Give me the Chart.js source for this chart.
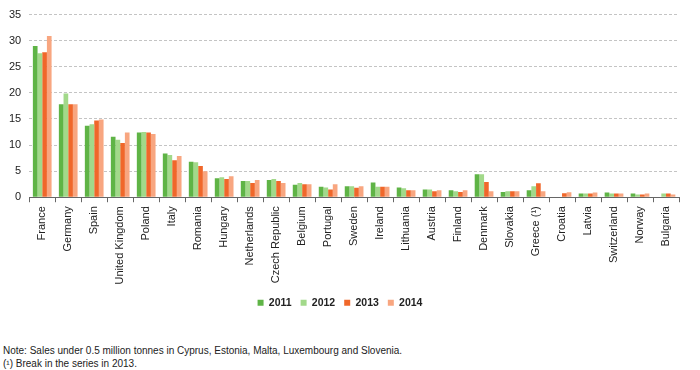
<!DOCTYPE html>
<html>
<head>
<meta charset="utf-8">
<script src="https://cdn.jsdelivr.net/npm/chart.js@4"></script>
<style>
  body { margin: 0; background: #fff; font-family: Arial, "Liberation Sans", sans-serif; }
  #wrap { position: relative; width: 700px; height: 318px; }
  #notes { position: absolute; left: 3px; top: 345px; font-size: 10px; line-height: 12.5px; color: #222; }
</style>
</head>
<body>
<div id="wrap"><canvas id="chart"></canvas></div>
<div id="notes">Note: Sales under 0.5 million tonnes in Cyprus, Estonia, Malta, Luxembourg and Slovenia.<br>(&#185;) Break in the series in 2013.</div>
<script>
// --- Data (million tonnes) ---
const countries = ['France', 'Germany', 'Spain', 'United Kingdom', 'Poland', 'Italy', 'Romania', 'Hungary',
    'Netherlands', 'Czech Republic', 'Belgium', 'Portugal', 'Sweden', 'Ireland', 'Lithuania', 'Austria',
    'Finland', 'Denmark', 'Slovakia', 'Greece (\u00b9)', 'Croatia', 'Latvia', 'Switzerland', 'Norway', 'Bulgaria'];

const years = ['2011', '2012', '2013', '2014'];

const sales2011 = [29.0, 17.8, 13.7, 11.6, 12.4, 8.4, 6.8, 3.65, 3.1, 3.3, 2.4, 2.0, 2.1, 2.8, 1.85, 1.5, 1.35, 4.4, 1.0, 1.35, null, 0.7, 0.9, 0.7, null];
const sales2012 = [27.6, 19.9, 14.0, 11.0, 12.5, 8.1, 6.7, 3.85, 3.1, 3.5, 2.75, 1.85, 2.1, 2.0, 1.7, 1.5, 1.15, 4.4, 1.15, 2.1, null, 0.7, 0.7, 0.5, 0.7];
const sales2013 = [27.8, 17.8, 14.7, 10.4, 12.4, 7.1, 6.0, 3.5, 2.75, 3.1, 2.5, 1.5, 1.8, 2.0, 1.35, 1.15, 1.0, 2.9, 1.15, 2.7, 0.77, 0.7, 0.7, 0.5, 0.7];
const sales2014 = [30.9, 17.8, 14.9, 12.4, 12.1, 7.9, 5.0, 4.0, 3.3, 2.75, 2.5, 2.5, 2.1, 2.0, 1.35, 1.35, 1.35, 1.15, 1.15, 1.15, 0.96, 0.9, 0.7, 0.7, 0.5];

const yearColors = ['#5fb446', '#a2d98a', '#f0672a', '#f8a680'];

const series = [sales2011, sales2012, sales2013, sales2014];

new Chart(document.getElementById('chart'), {
    type: 'bar',
    data: {
        labels: countries,
        datasets: series.map((vals, i) => ({
            label: years[i],
            data: vals,
            backgroundColor: yearColors[i],
            borderWidth: 0,
            barPercentage: 1,
            categoryPercentage: 0.72
        }))
    },
    options: {
        responsive: true,
        maintainAspectRatio: false,
        animation: false,
        layout: { padding: { left: 1, right: 21, top: 12, bottom: 0 } },
        plugins: {
            tooltip: { enabled: false },
            legend: {
                position: 'bottom',
                labels: {
                    boxWidth: 6,
                    boxHeight: 6,
                    padding: 9,
                    color: '#222',
                    font: { family: 'Arial', size: 10.5, weight: 'bold' }
                }
            }
        },
        scales: {
            x: {
                offset: true,
                border: { display: true, color: '#666', width: 1 },
                grid: { display: true, drawOnChartArea: false, offset: true, tickLength: 5, color: '#666' },
                ticks: {
                    autoSkip: false,
                    maxRotation: 90,
                    minRotation: 90,
                    padding: 4,
                    color: '#222',
                    font: { family: 'Arial', size: 11 }
                }
            },
            y: {
                min: 0,
                max: 35,
                border: { display: false, dash: [3, 2] },
                grid: { color: '#c4c4c4', tickLength: 0, lineWidth: 1 },
                ticks: {
                    stepSize: 5,
                    padding: 8,
                    color: '#222',
                    font: { family: 'Arial', size: 11 }
                }
            }
        }
    }
});
</script>
</body>
</html>
